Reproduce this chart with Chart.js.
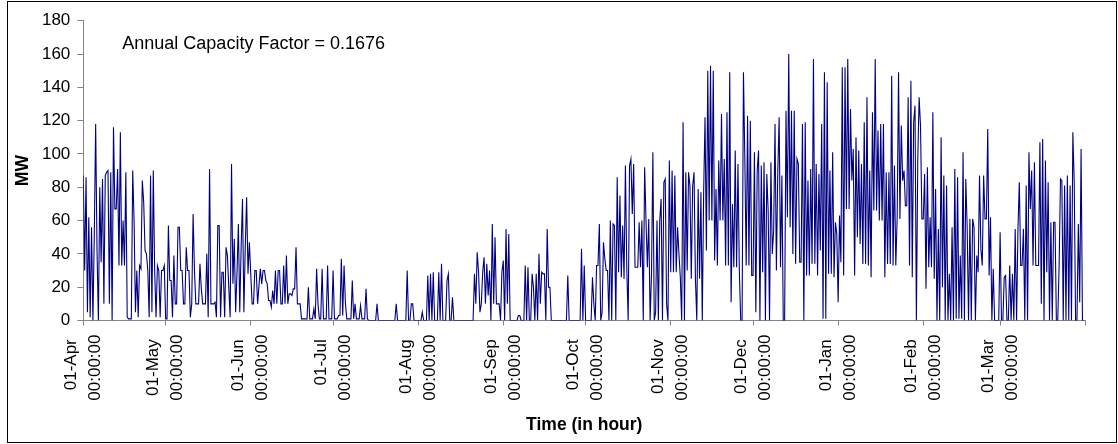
<!DOCTYPE html>
<html>
<head>
<meta charset="utf-8">
<script src="https://cdn.jsdelivr.net/npm/chart.js@4.4.0/dist/chart.umd.min.js"></script>
<style>
  html, body { margin: 0; padding: 0; background: #fff; }
  canvas { display: block; }
</style>
</head>
<body>
<canvas id="chart" width="1118" height="444"></canvas>
<script>
// month boundaries in hours from 01-Apr 00:00
const monthStarts = [0, 720, 1464, 2184, 2928, 3672, 4392, 5136, 5856, 6600, 7344, 8016, 8760];
const monthLabels = ['01-Apr', '01-May', '01-Jun', '01-Jul', '01-Aug', '01-Sep', '01-Oct',
  '01-Nov', '01-Dec', '01-Jan', '01-Feb', '01-Mar', ''];
const capacityNote = 'Annual Capacity Factor = 0.1676';

// MW output, one reading every 12 hours
const mw = [
  87,30,86,5,62,2,56,0,51,118,
  42,0,80,35,85,10,87,89,90,10,
  89,0,116,67,67,91,33,113,33,60,
  33,89,2,1,1,1,90,60,5,30,
  2,33,31,84,71,42,40,30,2,87,
  5,90,30,2,33,30,2,30,30,33,
  1,1,57,24,24,2,39,10,10,56,
  56,30,30,10,10,44,30,30,2,10,
  64,30,10,10,10,34,19,10,10,10,
  40,2,91,10,10,10,11,2,57,57,
  2,29,29,2,44,39,20,2,94,22,
  49,5,29,58,5,44,73,5,44,74,
  28,47,28,10,10,30,30,10,21,31,
  22,30,30,24,22,12,12,8,18,10,
  30,10,30,30,10,10,33,10,39,10,
  16,16,15,19,19,44,10,10,10,1,
  1,1,1,1,20,1,1,1,7,1,
  31,10,1,1,31,1,1,1,33,1,
  1,1,30,1,1,1,3,3,37,3,
  33,10,1,1,1,1,24,1,10,1,
  1,1,9,1,1,1,19,1,0,0,
  0,0,0,0,10,0,0,0,0,0,
  0,0,0,0,0,0,0,0,10,0,
  0,0,0,0,0,0,30,0,0,10,
  10,0,0,0,0,0,0,5,0,0,
  0,27,0,28,0,29,0,0,0,29,
  0,34,0,0,0,24,28,0,0,14,
  0,0,0,0,0,0,0,0,0,0,
  0,0,0,0,0,28,10,41,29,5,
  10,29,38,10,34,15,30,0,58,10,
  50,10,10,10,0,29,36,0,55,10,
  52,0,0,0,0,0,0,3,3,0,
  0,0,33,0,32,0,0,28,20,0,
  28,0,40,10,29,28,28,0,55,20,
  20,0,0,0,0,0,0,0,0,0,
  0,0,0,27,0,0,0,0,0,0,
  0,0,0,43,0,33,0,0,0,0,
  0,26,10,0,33,33,58,0,5,47,
  37,30,30,0,60,0,58,57,0,86,
  29,75,26,57,25,93,31,0,93,97,
  64,94,32,32,32,59,32,60,0,92,
  60,32,61,0,28,101,0,5,60,0,
  60,73,0,83,85,10,0,96,29,90,
  29,87,29,56,40,26,0,119,0,89,
  30,89,81,25,81,89,25,0,79,25,
  77,0,77,122,42,150,60,153,60,150,
  36,79,33,96,60,124,60,97,33,125,
  33,149,11,70,32,102,32,94,30,0,
  0,149,97,33,123,33,120,27,27,101,
  5,90,102,0,93,29,95,0,88,66,
  0,95,40,54,118,30,89,122,32,87,
  0,0,126,62,160,56,126,40,126,34,
  97,94,35,35,118,0,119,27,84,27,
  91,34,157,34,94,27,88,42,118,1,
  149,1,143,28,90,28,101,26,59,52,
  11,63,35,152,27,152,67,157,67,127,
  84,103,27,110,50,102,46,94,34,119,
  34,134,33,90,26,125,66,157,66,114,
  60,118,60,118,26,89,34,89,34,147,
  33,93,33,62,149,61,117,84,90,69,
  69,134,33,144,26,119,129,0,96,134,
  117,61,61,88,19,92,32,62,32,125,
  25,79,0,55,0,110,20,87,0,81,
  0,28,0,56,0,91,1,86,1,39,
  1,101,0,85,56,0,61,0,61,56,
  0,39,29,87,43,33,87,61,61,115,
  27,62,0,31,0,0,0,0,53,0,
  0,26,27,0,0,33,0,28,0,55,
  0,55,83,33,33,55,0,81,0,101,
  67,90,33,95,33,33,33,107,10,109,
  0,96,29,83,0,59,0,59,59,0,
  0,33,85,84,0,81,0,87,0,81,
  0,113,83,0,0,58,11,103,0,0
];
const hours = mw.map((v, i) => i * 12);

const fontFamily = "'Liberation Sans', Arial, sans-serif";
Chart.defaults.font.family = fontFamily;
Chart.defaults.color = '#000';

const axisGrey = '#868686';

// white page, outer frame and the capacity factor note
const frameAndNote = {
  id: 'frameAndNote',
  beforeDraw(chart) {
    const ctx = chart.ctx;
    ctx.save();
    ctx.fillStyle = '#fff';
    ctx.fillRect(0, 0, chart.width, chart.height);
    ctx.restore();
  },
  afterDraw(chart) {
    const { ctx, chartArea } = chart;
    ctx.save();
    ctx.strokeStyle = '#000';
    ctx.lineWidth = 1;
    ctx.strokeRect(7.5, 1.5, 1109, 441);
    ctx.fillStyle = '#000';
    ctx.font = '18px ' + fontFamily;
    ctx.fillText(capacityNote, chartArea.left + 39, chartArea.top + 28.5);
    ctx.restore();
  }
};

new Chart(document.getElementById('chart'), {
  type: 'line',
  data: {
    labels: hours,
    datasets: [{
      data: mw,
      borderColor: '#000080',
      borderWidth: 1.1,
      pointRadius: 0,
      fill: false,
      tension: 0
    }]
  },
  options: {
    responsive: false,
    animation: false,
    layout: { padding: { left: 0, right: 18.7, top: 20.7, bottom: 0 } },
    plugins: {
      legend: { display: false },
      tooltip: { enabled: false }
    },
    scales: {
      x: {
        type: 'linear',
        min: 0,
        max: 8760,
        afterBuildTicks: (scale) => {
          scale.ticks = monthStarts.map(v => ({ value: v }));
        },
        afterFit: (scale) => { scale.height = 123.5; },
        ticks: {
          autoSkip: false,
          minRotation: 90,
          maxRotation: 90,
          padding: 9,
          labelOffset: -12,
          font: { size: 17, lineHeight: 1.4 },
          callback: (value, index) => monthLabels[index] ? [monthLabels[index] + ' ', '00:00:00'] : ''
        },
        grid: { drawOnChartArea: false, tickLength: 5, color: axisGrey },
        border: { color: axisGrey },
        title: {
          display: true,
          text: 'Time (in hour)',
          font: { size: 17.5, weight: 'bold' },
          padding: { top: 0, bottom: 8 }
        }
      },
      y: {
        min: 0,
        max: 180,
        afterFit: (scale) => { scale.width = 83.3; },
        ticks: { stepSize: 20, padding: 7, font: { size: 17 } },
        grid: { drawOnChartArea: false, tickLength: 6, color: axisGrey },
        border: { color: axisGrey },
        title: {
          display: true,
          text: 'MW',
          font: { size: 17.5, weight: 'bold' },
          padding: { top: 13, bottom: 0 }
        }
      }
    }
  },
  plugins: [frameAndNote]
});
</script>
</body>
</html>
